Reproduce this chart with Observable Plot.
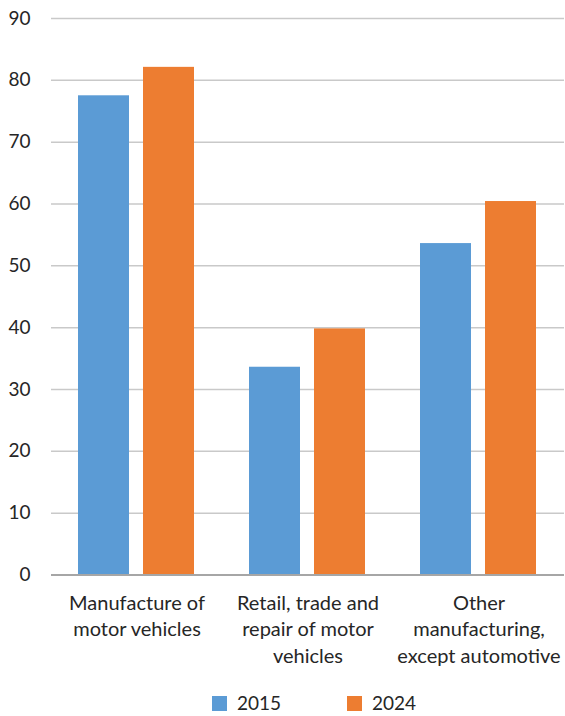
<!DOCTYPE html>
<html>
<head>
<meta charset="utf-8">
<script src="https://cdn.jsdelivr.net/npm/d3@7"></script>
<script src="https://cdn.jsdelivr.net/npm/@observablehq/plot@0.6"></script>
<style>
  body { margin: 0; background: #fff; font-family: Lato, "Noto Sans", sans-serif; color: #262626; }
  #wrap { position: relative; width: 565px; height: 716px; overflow: hidden; }
  #legend { position: absolute; left: 0; top: 695px; width: 565px; height: 16px; font-size: 19px; line-height: 16px; }
  .item { position: absolute; top: 0; height: 16px; display: flex; align-items: center; }
  .swatch { width: 15px; height: 15px; margin-right: 10px; }
</style>
</head>
<body>
<div id="wrap">
  <div id="chart"></div>
  <div id="legend"></div>
</div>
<script>
// Sector categories and their wrapped tick labels
const categories = [
  "Manufacture of motor vehicles",
  "Retail, trade and repair of motor vehicles",
  "Other manufacturing, except automotive"
];
const categoryLabels = [
  "Manufacture of\nmotor vehicles",
  "Retail, trade and\nrepair of motor\nvehicles",
  "Other\nmanufacturing,\nexcept automotive"
];

// Series
const years = ["2015", "2024"];
const values2015 = [77.5, 33.6, 53.6];
const values2024 = [82.1, 39.8, 60.4];
const seriesColors = ["#5B9BD5", "#ED7D31"];

// Value axis ticks
const yTicks = [0, 10, 20, 30, 40, 50, 60, 70, 80, 90];

const rows = categories.flatMap((c, i) => [
  {category: c, year: years[0], value: values2015[i]},
  {category: c, year: years[1], value: values2024[i]}
]);

const W = 565, H = 692;
const chart = Plot.plot({
  width: W,
  height: H,
  marginLeft: 50,
  marginRight: 0,
  marginTop: 18,
  marginBottom: H - 574.5,
  style: {fontFamily: "Lato, 'Noto Sans', sans-serif", fontSize: "20px", color: "#262626", background: "#fff"},
  fx: {domain: categories, padding: 0, label: null},
  x: {domain: years, paddingInner: 0.21, paddingOuter: 0.41, axis: null},
  y: {domain: [0, 90], ticks: yTicks, label: null},
  color: {domain: years, range: seriesColors},
  marks: [
    Plot.gridY(yTicks.filter(d => d > 0), {stroke: "#c9c9c9", strokeOpacity: 1, strokeWidth: 1.5}),
    Plot.axisY(yTicks, {tickSize: 0, tickPadding: 21, label: null, fontSize: 19}),
    Plot.barY(rows, {fx: "category", x: "year", y: "value", fill: "year"}),
    Plot.ruleY([0], {stroke: "#a6a6a6", strokeWidth: 2}),
    Plot.axisFx({
      anchor: "bottom",
      tickSize: 0,
      tickPadding: 16,
      lineHeight: 1.33,
      label: null,
      fontSize: 20,
      tickFormat: d => categoryLabels[categories.indexOf(d)]
    })
  ]
});
document.getElementById("chart").appendChild(chart);

// Legend below the plot
const legendLeft = [212, 347];
const legend = d3.select("#legend");
years.forEach((y, i) => {
  const item = legend.append("div").attr("class", "item").style("left", legendLeft[i] + "px");
  item.append("div").attr("class", "swatch").style("background", seriesColors[i]);
  item.append("span").text(y);
});
</script>
</body>
</html>
